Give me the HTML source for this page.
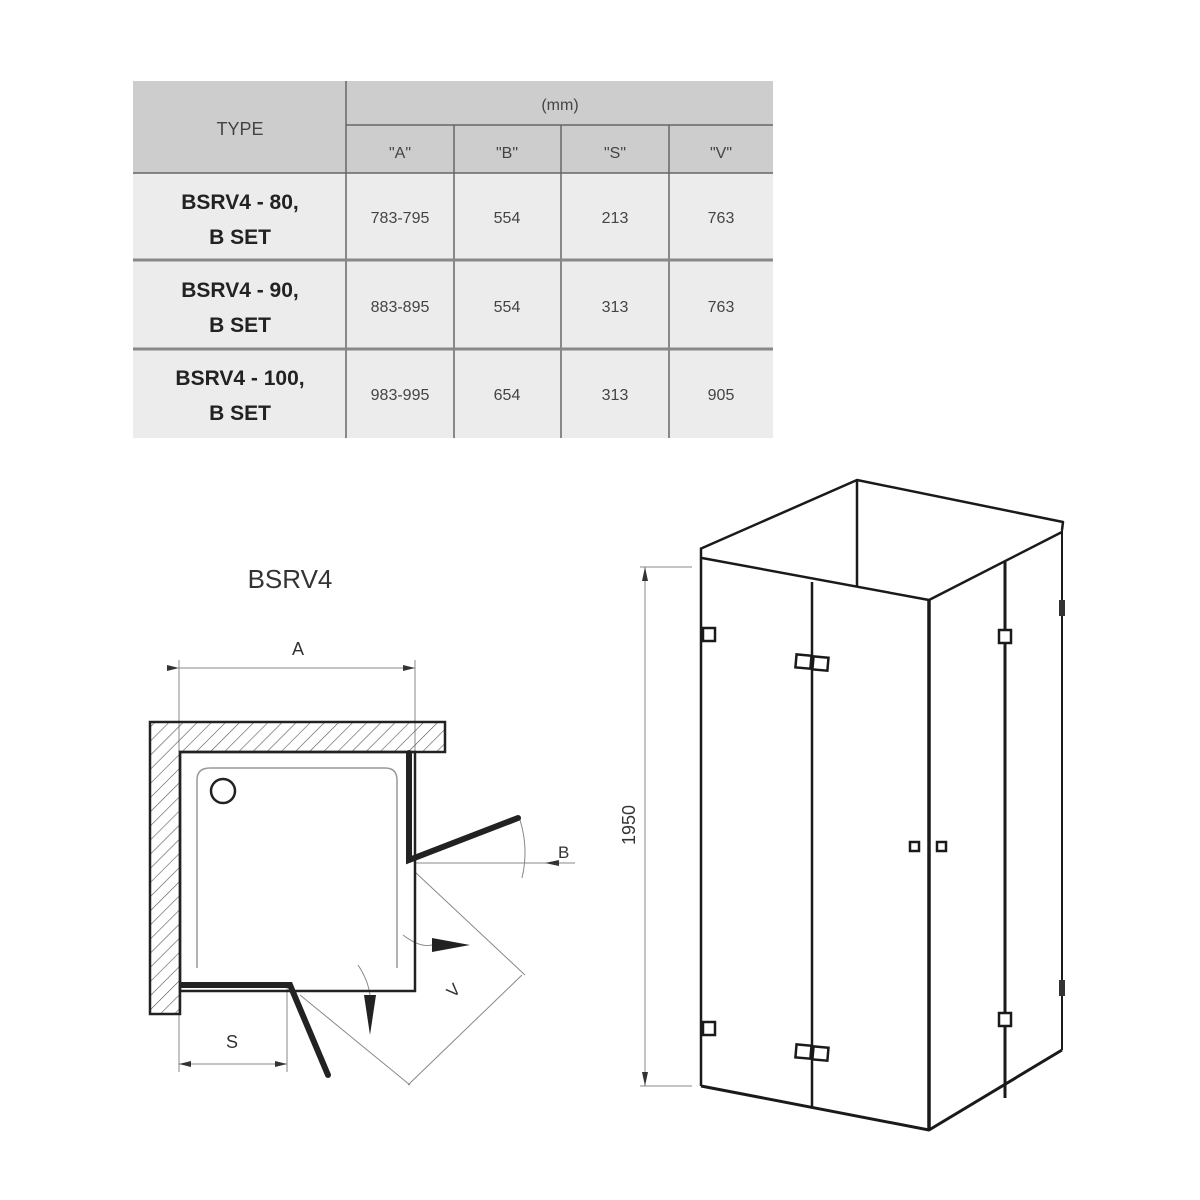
<!DOCTYPE html>
<html><head><style>
html,body{margin:0;padding:0;background:#fff;}
svg{display:block;}
text{font-family:"Liberation Sans",sans-serif;}
</style></head><body>
<svg width="1200" height="1200" viewBox="0 0 1200 1200" xmlns="http://www.w3.org/2000/svg">
<defs>
<pattern id="h" width="10" height="10" patternUnits="userSpaceOnUse" patternTransform="rotate(45)">
<line x1="0" y1="0" x2="0" y2="10" stroke="#555" stroke-width="1.2"/>
</pattern>
<marker id="ar" markerWidth="12" markerHeight="6" refX="12" refY="3" orient="auto" markerUnits="userSpaceOnUse"><path d="M0,0 L12,3 L0,6 z" fill="#333"/></marker>
</defs>
<!-- table -->
<rect x="133" y="81" width="640" height="92" fill="#cdcdcd"/>
<rect x="133" y="173" width="640" height="265" fill="#ececec"/>
<g stroke="#666" stroke-width="1.5" fill="none">
<line x1="346" y1="81" x2="346" y2="438"/>
<line x1="454" y1="125" x2="454" y2="438"/>
<line x1="561" y1="125" x2="561" y2="438"/>
<line x1="669" y1="125" x2="669" y2="438"/>
<line x1="346" y1="125" x2="773" y2="125"/>
<line x1="133" y1="173" x2="773" y2="173"/>
<line x1="133" y1="260" x2="773" y2="260" stroke-width="3" stroke="#888"/>
<line x1="133" y1="349" x2="773" y2="349" stroke-width="3" stroke="#888"/>
</g>
<g fill="#444" font-size="18" text-anchor="middle">
<text x="240" y="135">TYPE</text>
<text x="560" y="110" font-size="16">(mm)</text>
<text x="400" y="158" font-size="16">"A"</text>
<text x="507" y="158" font-size="16">"B"</text>
<text x="615" y="158" font-size="16">"S"</text>
<text x="721" y="158" font-size="16">"V"</text>
</g>
<g fill="#222" font-size="21" font-weight="bold" text-anchor="middle">
<text x="240" y="209">BSRV4 - 80,</text><text x="240" y="244">B SET</text>
<text x="240" y="297">BSRV4 - 90,</text><text x="240" y="332">B SET</text>
<text x="240" y="385">BSRV4 - 100,</text><text x="240" y="420">B SET</text>
</g>
<g fill="#444" font-size="16" text-anchor="middle">
<text x="400" y="223">783-795</text><text x="507" y="223">554</text><text x="615" y="223">213</text><text x="721" y="223">763</text>
<text x="400" y="312">883-895</text><text x="507" y="312">554</text><text x="615" y="312">313</text><text x="721" y="312">763</text>
<text x="400" y="400">983-995</text><text x="507" y="400">654</text><text x="615" y="400">313</text><text x="721" y="400">905</text>
</g>
<!-- plan -->
<text x="290" y="588" font-size="26" fill="#333" text-anchor="middle">BSRV4</text>
<text x="298" y="655" font-size="18" fill="#333" text-anchor="middle">A</text>
<g stroke="#888" stroke-width="1" fill="none">
<line x1="179" y1="660" x2="179" y2="752"/>
<line x1="415" y1="660" x2="415" y2="760"/>
<line x1="179" y1="668" x2="415" y2="668" marker-end="url(#ar)" marker-start="url(#ar)"/>
<line x1="179" y1="985" x2="179" y2="1072"/>
<line x1="287" y1="985" x2="287" y2="1072"/>
<line x1="179" y1="1064" x2="287" y2="1064"/>
<line x1="415" y1="863" x2="575" y2="863"/>
<path d="M520,820 A110,110 0 0 1 522,878"/>
<line x1="415" y1="872" x2="525" y2="975"/>
<line x1="300" y1="995" x2="410" y2="1085"/>
<line x1="408" y1="1085" x2="522" y2="975"/>
<path d="M403,935 Q420,948 432,945"/>
<path d="M358,965 Q368,980 370,995"/>
</g>
<path d="M179,1064 l12,-3 v6z M287,1064 l-12,-3 v6z M545,863 l14,-3 v6z" fill="#333"/>
<path d="M432,938 L470,945 L432,952z" fill="#222"/>
<path d="M364,995 L370,1035 L376,995z" fill="#222"/>
<text x="558" y="858" font-size="17" fill="#333">B</text>
<text x="232" y="1048" font-size="18" fill="#333" text-anchor="middle">S</text>
<text x="450" y="1000" font-size="17" fill="#333" transform="rotate(-45 450 995)">V</text>
<path d="M150,722 H445 V752 H180 V1014 H150 Z" fill="url(#h)" stroke="#222" stroke-width="2.5"/>
<path d="M180,752 H415 V991 H180 Z" fill="none" stroke="#222" stroke-width="2.5"/>
<path d="M197,968 V780 Q197,768 210,768 H385 Q397,768 397,780 V968" fill="none" stroke="#999" stroke-width="1.5"/>
<circle cx="223" cy="791" r="12" fill="none" stroke="#222" stroke-width="2.5"/>
<g stroke="#222" stroke-width="6" stroke-linecap="round" fill="none">
<path d="M409,753 V860 L518,818"/>
<path d="M182,985 H290 L328,1075"/>
</g>
<!-- 3D -->
<g stroke="#888" stroke-width="1" fill="none">
<line x1="640" y1="567" x2="692" y2="567"/>
<line x1="640" y1="1086" x2="692" y2="1086"/>
<line x1="645" y1="567" x2="645" y2="1086"/>
</g>
<path d="M645,567 l-3,14 h6z M645,1086 l-3,-14 h6z" fill="#333"/>
<text x="630" y="830" font-size="18" fill="#333" text-anchor="middle" transform="rotate(-90 630 825)">1950</text>
<g stroke="#1a1a1a" stroke-width="2.5" fill="none" stroke-linejoin="round">
<path d="M700,549 L857,480 L1063,522 L1062,530"/>
<line x1="857" y1="480" x2="857" y2="587"/>
<path d="M702,558 L929,600 L1062,532"/>
<line x1="701" y1="549" x2="701" y2="1086"/>
<line x1="812" y1="582" x2="812" y2="1108"/>
<line x1="929" y1="600" x2="929" y2="1130" stroke-width="3.5"/>
<line x1="1005" y1="562" x2="1005" y2="1098" stroke-width="3"/>
<line x1="1062" y1="530" x2="1062" y2="1050" stroke-width="2"/>
<path d="M701,1086 L929,1130 L1062,1050" stroke-width="3"/>
</g>
<g stroke="#1a1a1a" stroke-width="2.5" fill="#fff">
<rect x="703" y="628" width="12" height="13"/>
<rect x="703" y="1022" width="12" height="13"/>
<rect x="796" y="655" width="15" height="13" transform="rotate(5 803 661)"/>
<rect x="813" y="657" width="15" height="13" transform="rotate(5 820 663)"/>
<rect x="796" y="1045" width="15" height="13" transform="rotate(5 803 1051)"/>
<rect x="813" y="1047" width="15" height="13" transform="rotate(5 820 1053)"/>
<rect x="910" y="842" width="9" height="9"/>
<rect x="937" y="842" width="9" height="9"/>
<rect x="999" y="630" width="12" height="13"/>
<rect x="999" y="1013" width="12" height="13"/>
</g>
<rect x="1059" y="600" width="6" height="16" fill="#333"/>
<rect x="1059" y="980" width="6" height="16" fill="#333"/>
</svg>
</body></html>
